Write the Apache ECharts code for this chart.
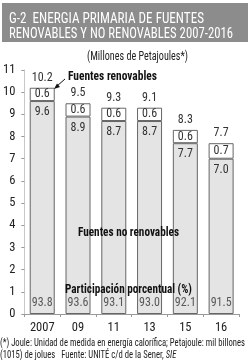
<!DOCTYPE html>
<html><head><meta charset="utf-8">
<script src="https://cdn.jsdelivr.net/npm/echarts@6/dist/echarts.min.js"></script>
<style>html,body{margin:0;padding:0;background:#fff}#c{width:250px;height:360px}</style>
</head><body><div id="c"></div>
<script>
var years = ['2007', '09', '11', '13', '15', '16'];
var noRenovables = [9.6, 8.9, 8.7, 8.7, 7.7, 7.0];
var renovables = [0.6, 0.6, 0.6, 0.6, 0.6, 0.7];
var totales = ['10.2', '9.5', '9.3', '9.1', '8.3', '7.7'];
var participacion = ['93.8', '93.6', '93.1', '93.0', '92.1', '91.5'];
var yTicks = [0, 11, 1];

var F = "'Roboto Condensed',sans-serif";
var ctx = document.createElement('canvas').getContext('2d');
function measure(text, font) { ctx.font = font; return ctx.measureText(text).width; }
function fitText(text, font, x0, x1, yc, color) {
  var w = measure(text, font);
  return {type: 'text', z: 101, x: x0, y: yc, scaleX: (x1 - x0) / w,
    style: {text: text, font: font, fill: color, textVerticalAlign: 'middle'}};
}
var FT = '10.5px ' + F;
var foot1 = '(*) Joule: Unidad de medida en energía calorífica; Petajoule: mil billones';
var foot2a = '(1015) de jolues   Fuente: UNITÉ c/d de la Sener, ';
var footScale = 245 / measure(foot1, FT);

var chart = echarts.init(document.getElementById('c'), null, {renderer: 'canvas'});
chart.setOption({
  animation: false,
  textStyle: {fontFamily: F},
  grid: {left: 21, right: 11, top: 70, bottom: 46},
  xAxis: {
    type: 'category', data: years,
    axisLine: {lineStyle: {color: '#999'}},
    axisTick: {show: true, length: 3, lineStyle: {color: '#999'}},
    axisLabel: {fontFamily: F, fontSize: 12.5, color: '#222', margin: 7, interval: 0}
  },
  yAxis: {
    type: 'value', min: yTicks[0], max: yTicks[1], interval: yTicks[2],
    splitLine: {show: false},
    axisLine: {show: true, lineStyle: {color: '#c8c8c8'}},
    axisTick: {show: true, length: 3, lineStyle: {color: '#999'}},
    axisLabel: {fontFamily: F, fontSize: 12.5, color: '#222', margin: 9}
  },
  series: [
    {
      type: 'bar', stack: 'e', data: noRenovables, barWidth: 25,
      itemStyle: {color: '#e4e4e4', borderColor: '#666', borderWidth: 1},
      label: {show: true, position: 'insideTop', distance: 5, fontFamily: F, fontSize: 12, color: '#333',
        formatter: function (p) { return p.value.toFixed(1); }}
    },
    {
      type: 'bar', stack: 'e', data: renovables, barWidth: 25,
      itemStyle: {color: '#fff', borderColor: '#666', borderWidth: 1},
      label: {show: true, position: 'inside', fontFamily: F, fontSize: 12, color: '#333',
        formatter: function (p) { return p.value.toFixed(1); }}
    },
    {
      type: 'bar', stack: 'e', data: years.map(function () { return 0; }), barWidth: 25,
      itemStyle: {color: 'transparent'}, silent: true,
      label: {show: true, position: 'top', distance: 4, fontFamily: F, fontSize: 12, color: '#333',
        formatter: function (p) { return totales[p.dataIndex]; }}
    },
    {
      type: 'scatter', symbolSize: 0, silent: true, z: 5,
      data: years.map(function (y) { return [y, 0.5]; }),
      label: {show: true, position: 'inside', fontFamily: F, fontSize: 12, color: '#333',
        formatter: function (p) { return participacion[p.dataIndex]; }}
    }
  ],
  graphic: [
    {type: 'rect', z: 100, shape: {x: 2, y: 3, width: 246, height: 39}, style: {fill: '#8c8c8c'}},
    fitText('G-2  ENERGIA PRIMARIA DE FUENTES', '14px ' + F, 9, 204, 19, '#fff'),
    fitText('RENOVABLES Y NO RENOVABLES 2007-2016', '14px ' + F, 9, 233, 34, '#fff'),
    fitText('(Millones de Petajoules*)', '12px ' + F, 87, 188, 57, '#222'),
    fitText('Fuentes renovables', 'bold 12px ' + F, 68, 157, 77, '#111'),
    {type: 'line', z: 101, shape: {x1: 65, y1: 79, x2: 57, y2: 86}, style: {stroke: '#111', lineWidth: 1}},
    {type: 'polygon', z: 101, shape: {points: [[54, 89], [57, 83.5], [60, 87]]}, style: {fill: '#111'}},
    fitText('Fuentes no renovables', 'bold 12px ' + F, 78, 179, 233, '#111'),
    fitText('Participación porcentual (%)', 'bold 12px ' + F, 65, 192, 290, '#111'),
    {type: 'text', z: 101, x: 0, y: 343, scaleX: footScale,
      style: {text: foot1, fill: '#222', font: FT, textVerticalAlign: 'middle'}},
    {type: 'text', z: 101, x: 0, y: 355, scaleX: footScale,
      style: {rich: {a: {fontSize: 10.5, fontFamily: F, fill: '#222'}, i: {fontSize: 10.5, fontFamily: F, fontStyle: 'italic', fill: '#222'}},
      text: '{a|' + foot2a + '}{i|SIE}', textVerticalAlign: 'middle'}}
  ]
});
</script></body></html>
